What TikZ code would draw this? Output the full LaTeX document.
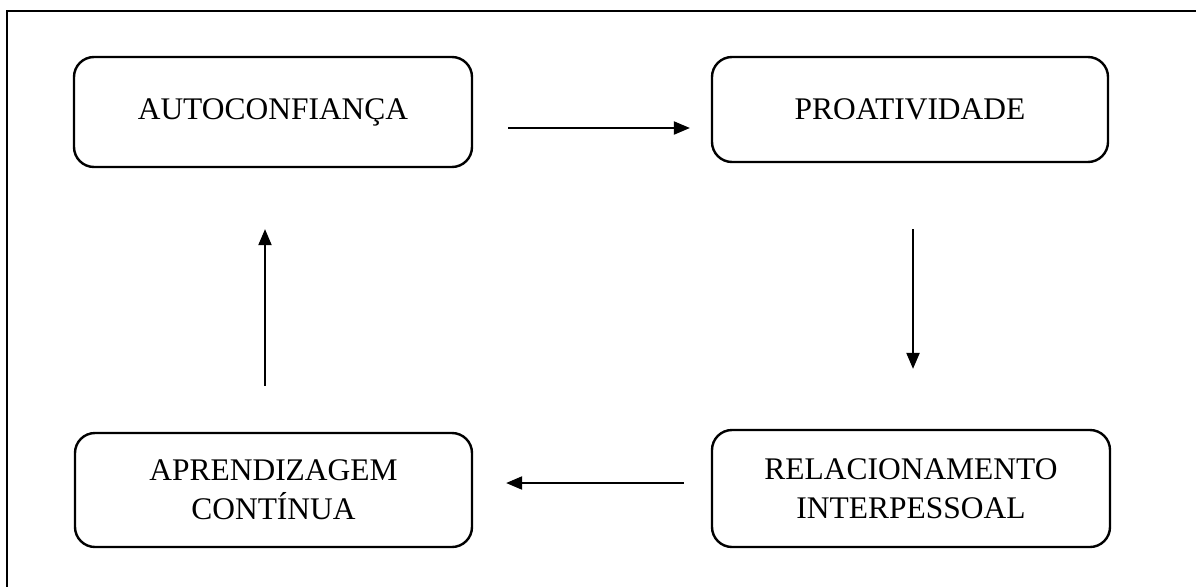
\documentclass[tikz,border=0pt]{standalone}
\usepackage{fontspec}
\setmainfont{Liberation Serif}
\usetikzlibrary{calc,arrows.meta,positioning}

\tikzset{
  stage/.style={draw, line width=1.8pt, rounded corners=15pt, align=center,
    inner sep=0pt, font=\fontsize{23.6}{29.3}\selectfont},
  flow/.style={-{Triangle[length=12pt,width=10pt]}, line width=0.9pt},
}

\begin{document}
\begin{tikzpicture}[x=0.75pt,y=-0.75pt]
\useasboundingbox (0,0) rectangle (1196,586);
\clip (0,0) rectangle (1196,586);
\draw[line width=2pt] (7,11) rectangle (1215,600);

\node[stage, minimum width=298.5pt, minimum height=82.5pt] (auto) at (273,112) {AUTOCONFIANÇA};
\node[stage, minimum width=297pt, minimum height=78.75pt] (proat) at (910,109.5) {PROATIVIDADE};
\node[stage, minimum width=298.5pt, minimum height=87.75pt] (relac) at (911,488.5) {RELACIONAMENTO\\INTERPESSOAL};
\node[stage, minimum width=297.75pt, minimum height=85.5pt] (aprend) at (273.5,490) {APRENDIZAGEM\\CONTÍNUA};

\draw[flow] ($(auto.east)+(35,16)$) -- ($(proat.west)+(-21,18.5)$);
\draw[flow] ($(proat.south)+(3,66)$) -- ($(relac.north)+(2,-60)$);
\draw[flow] ($(relac.west)+(-27,-5.5)$) -- ($(aprend.east)+(33,-7)$);
\draw[flow] ($(aprend.north)+(-8.5,-46)$) -- ($(auto.south)+(-8,61)$);
\end{tikzpicture}
\end{document}
